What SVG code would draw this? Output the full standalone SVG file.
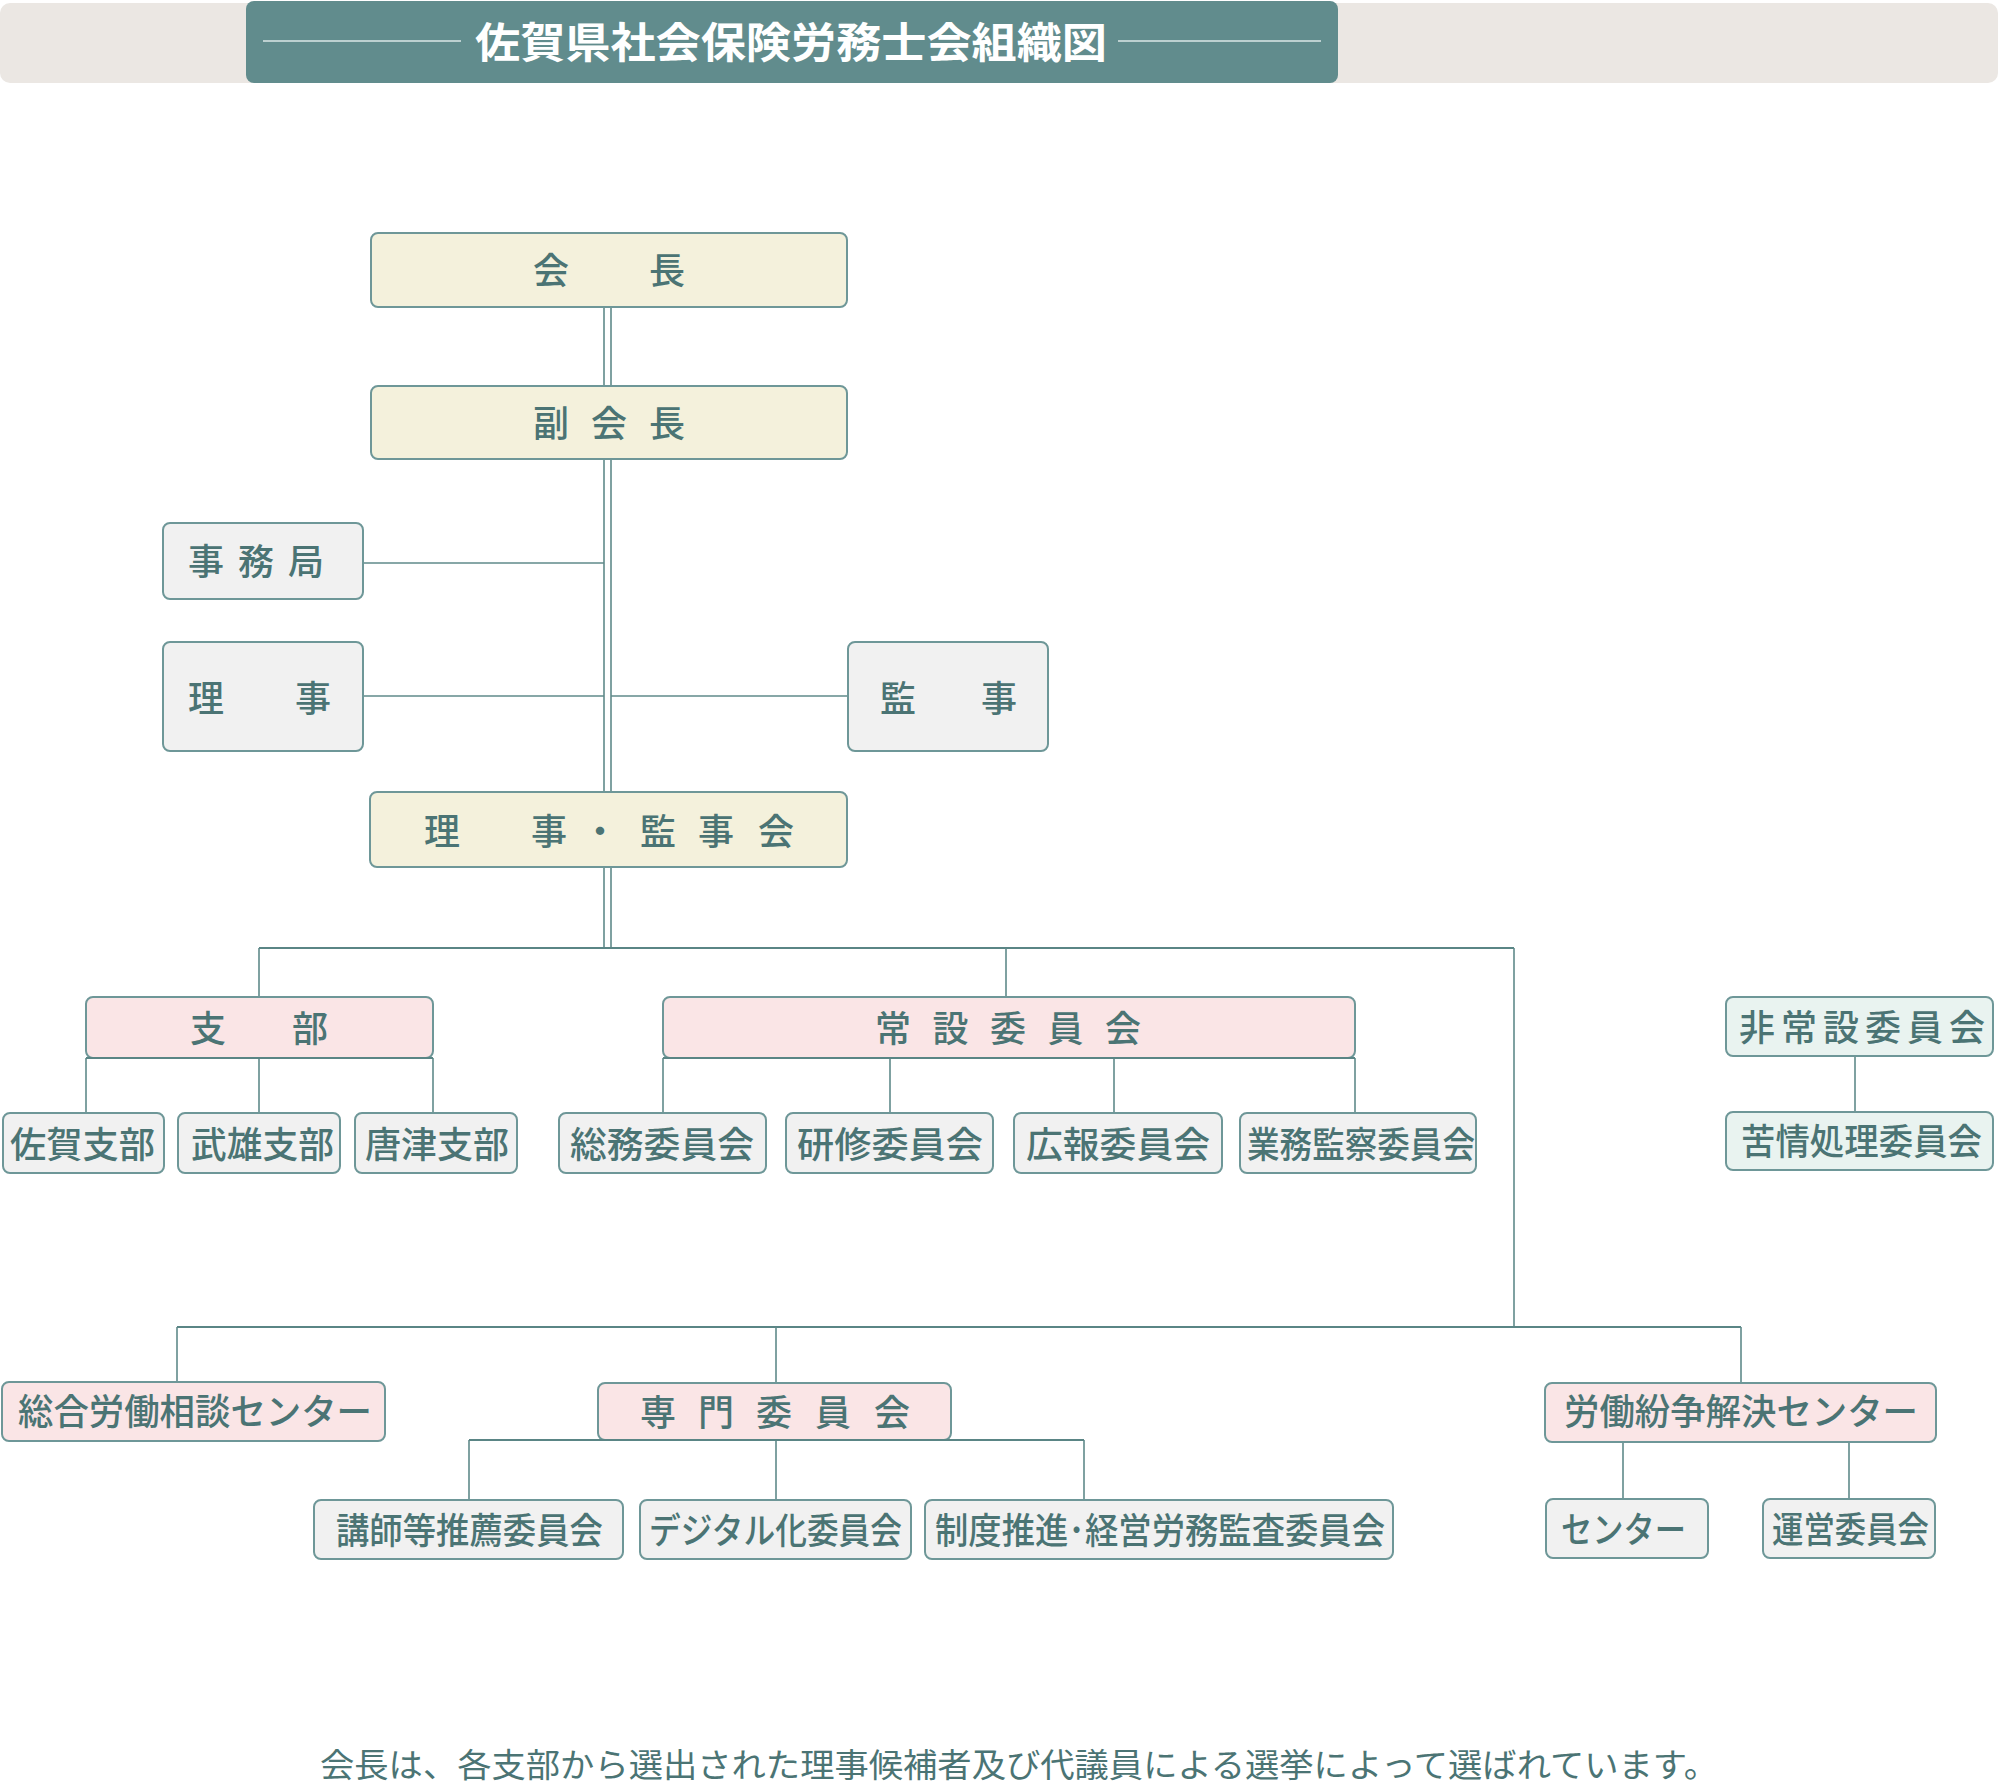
<svg xmlns="http://www.w3.org/2000/svg" width="2000" height="1783" viewBox="0 0 2000 1783">
<style>
.box{stroke:#6e9798;stroke-width:2}
.cream{fill:#f4f1dc}
.pink{fill:#fae5e6}
.gray{fill:#f1f1f1}
.mint{fill:#e9f3f0}
.t{font-family:"Noto Sans CJK JP","Noto Sans CJK SC",sans-serif;font-size:36px;font-weight:500;fill:#4b7474}
.c{fill:none;stroke:#5f8a8a;stroke-width:1.6}
.c2{fill:none;stroke:#5a8585;stroke-width:2.2}
</style>
<rect width="2000" height="1783" fill="#ffffff"/>
<g id="header">
<rect x="0" y="3" width="1998" height="80" rx="10" fill="#ebe7e3"/>
<rect x="246" y="1" width="1092" height="82" rx="8" fill="#618c8d"/>
<line x1="263" y1="41" x2="461" y2="41" stroke="#dbe7e7" stroke-width="1.6"/>
<line x1="1118" y1="41" x2="1321" y2="41" stroke="#dbe7e7" stroke-width="1.6"/>
<text x="475" y="58" font-family="'Noto Sans CJK JP','Noto Sans CJK SC',sans-serif" font-size="42" font-weight="bold" fill="#ffffff" textLength="632" lengthAdjust="spacingAndGlyphs">佐賀県社会保険労務士会組織図</text>
</g>
<g id="connectors">
<line class="c" x1="604" y1="307" x2="604" y2="386"/>
<line class="c" x1="611" y1="307" x2="611" y2="386"/>
<line class="c" x1="604" y1="459" x2="604" y2="792"/>
<line class="c" x1="611" y1="459" x2="611" y2="792"/>
<line class="c" x1="604" y1="867" x2="604" y2="948"/>
<line class="c" x1="611" y1="867" x2="611" y2="948"/>
<line class="c" x1="363" y1="563" x2="604" y2="563"/>
<line class="c" x1="363" y1="696" x2="604" y2="696"/>
<line class="c" x1="611" y1="696" x2="848" y2="696"/>
<line class="c2" x1="259" y1="948" x2="1514" y2="948"/>
<line class="c" x1="259" y1="948" x2="259" y2="997"/>
<line class="c" x1="1006" y1="948" x2="1006" y2="997"/>
<line class="c" x1="1514" y1="948" x2="1514" y2="1327"/>
<line class="c" x1="86" y1="1058" x2="86" y2="1113"/>
<line class="c" x1="259" y1="1058" x2="259" y2="1113"/>
<line class="c" x1="433" y1="1058" x2="433" y2="1113"/>
<line class="c" x1="663" y1="1058" x2="663" y2="1113"/>
<line class="c" x1="890" y1="1058" x2="890" y2="1113"/>
<line class="c" x1="1114" y1="1058" x2="1114" y2="1113"/>
<line class="c" x1="1355" y1="1058" x2="1355" y2="1113"/>
<line class="c" x1="1855" y1="1056" x2="1855" y2="1112"/>
<line class="c2" x1="177" y1="1327" x2="1741" y2="1327"/>
<line class="c" x1="177" y1="1327" x2="177" y2="1382"/>
<line class="c" x1="776" y1="1327" x2="776" y2="1383"/>
<line class="c" x1="1741" y1="1327" x2="1741" y2="1383"/>
<line class="c" x1="469" y1="1440" x2="469" y2="1500"/>
<line class="c" x1="776" y1="1440" x2="776" y2="1500"/>
<line class="c" x1="1084" y1="1440" x2="1084" y2="1500"/>
<line class="c" x1="1623" y1="1442" x2="1623" y2="1499"/>
<line class="c" x1="1849" y1="1442" x2="1849" y2="1499"/>
</g>
<g id="kaicho"><rect class="box cream" x="371" y="233" width="476" height="74" rx="7"/><text class="t" x="533 649" y="284">会長</text></g>
<g id="fukukaicho"><rect class="box cream" x="371" y="386" width="476" height="73" rx="7"/><text class="t" x="533 591 649" y="437">副会長</text></g>
<g id="jimukyoku"><rect class="box gray" x="163" y="523" width="200" height="76" rx="7"/><text class="t" x="188 238 288" y="575">事務局</text></g>
<g id="riji"><rect class="box gray" x="163" y="642" width="200" height="109" rx="7"/><text class="t" x="188 295" y="712">理事</text></g>
<g id="kanji"><rect class="box gray" x="848" y="642" width="200" height="109" rx="7"/><text class="t" x="880 981" y="712">監事</text></g>
<g id="rijikai"><rect class="box cream" x="370" y="792" width="477" height="75" rx="7"/><text class="t" x="424 531 582 640 698 758" y="845">理事・監事会</text></g>
<g id="shibu"><rect class="box pink" x="86" y="997" width="347" height="61" rx="7"/><line class="c2" x1="86" y1="1058" x2="433" y2="1058"/><text class="t" x="190 292" y="1042">支部</text></g>
<g id="saga"><rect class="box gray" x="3" y="1113" width="161" height="60" rx="7"/><text class="t" x="10" y="1158" textLength="145" lengthAdjust="spacingAndGlyphs">佐賀支部</text></g>
<g id="takeo"><rect class="box gray" x="178" y="1113" width="162" height="60" rx="7"/><text class="t" x="191" y="1158" textLength="143" lengthAdjust="spacingAndGlyphs">武雄支部</text></g>
<g id="karatsu"><rect class="box gray" x="355" y="1113" width="162" height="60" rx="7"/><text class="t" x="365" y="1158" textLength="144" lengthAdjust="spacingAndGlyphs">唐津支部</text></g>
<g id="josetsu"><rect class="box pink" x="663" y="997" width="692" height="61" rx="7"/><line class="c2" x1="663" y1="1058" x2="1355" y2="1058"/><text class="t" x="875 932.5 990 1047.5 1105" y="1042">常設委員会</text></g>
<g id="somu"><rect class="box gray" x="559" y="1113" width="207" height="60" rx="7"/><text class="t" x="570" y="1158" textLength="184" lengthAdjust="spacingAndGlyphs">総務委員会</text></g>
<g id="kenshu"><rect class="box gray" x="786" y="1113" width="207" height="60" rx="7"/><text class="t" x="797" y="1158" textLength="186" lengthAdjust="spacingAndGlyphs">研修委員会</text></g>
<g id="koho"><rect class="box gray" x="1014" y="1113" width="208" height="60" rx="7"/><text class="t" x="1026" y="1158" textLength="184" lengthAdjust="spacingAndGlyphs">広報委員会</text></g>
<g id="gyomu"><rect class="box gray" x="1240" y="1113" width="236" height="60" rx="7"/><text class="t" x="1247" y="1158" textLength="228" lengthAdjust="spacingAndGlyphs">業務監察委員会</text></g>
<g id="hijosetsu"><rect class="box mint" x="1726" y="997" width="267" height="59" rx="7"/><text class="t" x="1739" y="1041" textLength="246" lengthAdjust="spacing">非常設委員会</text></g>
<g id="kujo"><rect class="box mint" x="1726" y="1112" width="267" height="58" rx="7"/><text class="t" x="1741" y="1155" textLength="241" lengthAdjust="spacingAndGlyphs">苦情処理委員会</text></g>
<g id="sogo"><rect class="box pink" x="2" y="1382" width="383" height="59" rx="7"/><text class="t" x="18" y="1425" textLength="354" lengthAdjust="spacingAndGlyphs">総合労働相談センター</text></g>
<g id="senmon"><rect class="box pink" x="598" y="1383" width="353" height="57" rx="7"/><line class="c2" x1="469" y1="1440" x2="1084" y2="1440"/><text class="t" x="640 698 756 815 874" y="1426">専門委員会</text></g>
<g id="koshi"><rect class="box gray" x="314" y="1500" width="309" height="59" rx="7"/><text class="t" x="336" y="1544" textLength="267" lengthAdjust="spacingAndGlyphs">講師等推薦委員会</text></g>
<g id="digital"><rect class="box gray" x="640" y="1500" width="271" height="59" rx="7"/><text class="t" x="649" y="1544" textLength="253" lengthAdjust="spacingAndGlyphs">デジタル化委員会</text></g>
<g id="seido"><rect class="box gray" x="925" y="1500" width="468" height="59" rx="7"/><text class="t" x="935" y="1544" textLength="450" lengthAdjust="spacingAndGlyphs">制度推進･経営労務監査委員会</text></g>
<g id="funso"><rect class="box pink" x="1545" y="1383" width="391" height="59" rx="7"/><text class="t" x="1564" y="1425" textLength="354" lengthAdjust="spacingAndGlyphs">労働紛争解決センター</text></g>
<g id="center"><rect class="box gray" x="1546" y="1499" width="162" height="59" rx="7"/><text class="t" x="1561" y="1543" textLength="125" lengthAdjust="spacingAndGlyphs">センター</text></g>
<g id="unei"><rect class="box gray" x="1763" y="1499" width="172" height="59" rx="7"/><text class="t" x="1772" y="1543" textLength="157" lengthAdjust="spacingAndGlyphs">運営委員会</text></g>
<g id="footer"><text x="320" y="1777" font-family="'Noto Sans CJK JP','Noto Sans CJK SC',sans-serif" font-size="33" fill="#4b7474" textLength="1398" lengthAdjust="spacingAndGlyphs">会長は、各支部から選出された理事候補者及び代議員による選挙によって選ばれています。</text></g>
</svg>
